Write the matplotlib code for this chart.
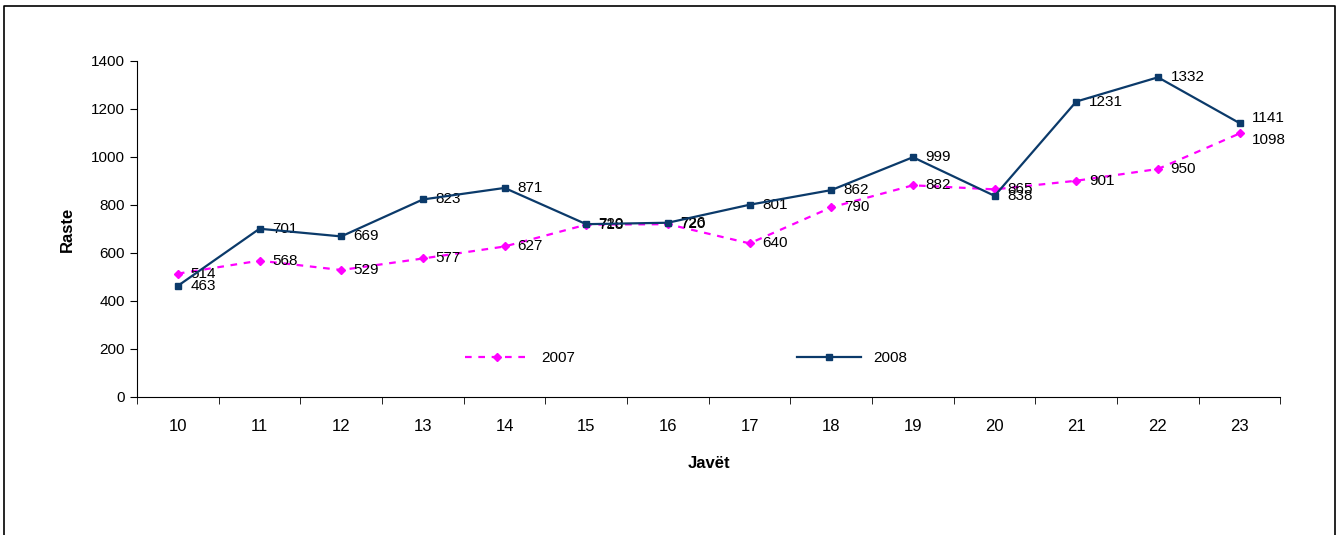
#!/usr/bin/env python3
"""Weekly cases 2007 vs 2008 line chart."""

import matplotlib
matplotlib.use('Agg')
import matplotlib.pyplot as plt
from matplotlib.lines import Line2D
import numpy as np

plt.rcParams.update({
    'font.family': 'sans-serif',
    'font.sans-serif': ['Liberation Sans', 'DejaVu Sans'],
    'font.size': 11,
    'figure.facecolor': 'white',
    'axes.facecolor': 'white',
    'axes.linewidth': 0.8,
})

weeks = ['10', '11', '12', '13', '14', '15', '16', '17', '18', '19', '20', '21', '22', '23']
cases_2007 = [514, 568, 529, 577, 627, 718, 720, 640, 790, 882, 865, 901, 950, 1098]
cases_2008 = [463, 701, 669, 823, 871, 720, 726, 801, 862, 999, 838, 1231, 1332, 1141]

x = np.arange(len(weeks))

fig = plt.figure(figsize=(13.38, 5.35), dpi=100)
ax = fig.add_axes([0.1024, 0.258, 0.8546, 0.628])

c07 = '#FF00FF'
c08 = '#0B3A6A'

ax.plot(x, cases_2007, color=c07, linestyle=(0, (3, 3)), linewidth=1.6,
        marker='D', markersize=4.5, label='2007', zorder=3)
ax.plot(x, cases_2008, color=c08, linestyle='-', linewidth=1.6,
        marker='s', markersize=5, label='2008', zorder=4)

last = len(weeks) - 1
for i, v in enumerate(cases_2007):
    dy = -5 if i == last else 0
    ax.annotate(str(v), (x[i], v), xytext=(9, dy), textcoords='offset points',
                ha='left', va='center', fontsize=11, color='black')
for i, v in enumerate(cases_2008):
    dy = 4 if i == last else 0
    ax.annotate(str(v), (x[i], v), xytext=(9, dy), textcoords='offset points',
                ha='left', va='center', fontsize=11, color='black')

ax.set_xlim(-0.5, len(weeks) - 0.5)
ax.set_ylim(0, 1400)
ax.set_yticks(np.arange(0, 1401, 200))
ax.set_xticks(x)
ax.set_xticklabels(weeks, fontsize=12)
ax.set_xticks(np.arange(-0.5, len(weeks), 1), minor=True)
ax.tick_params(axis='x', which='major', length=0, pad=16)
ax.tick_params(axis='x', which='minor', length=5, direction='out')
ax.tick_params(axis='y', length=5, direction='out', labelsize=11)

ax.spines['top'].set_visible(False)
ax.spines['right'].set_visible(False)

ax.set_ylabel('Raste', fontweight='bold', fontsize=12, labelpad=12)
ax.set_xlabel('Javët', fontweight='bold', fontsize=12, labelpad=16)

ax.legend(loc='center', bbox_to_anchor=(0.48, 0.116), ncol=2, frameon=False,
          handlelength=4.2, columnspacing=14.5, fontsize=11)

# outer chart frame
frame = Line2D([4 / 1338, 4 / 1338, 1335 / 1338, 1335 / 1338],
               [-0.1, 1 - 6 / 535, 1 - 6 / 535, -0.1],
               transform=fig.transFigure, color='black', linewidth=1.2)
fig.add_artist(frame)

plt.savefig('out.png', dpi=100)
plt.close()
